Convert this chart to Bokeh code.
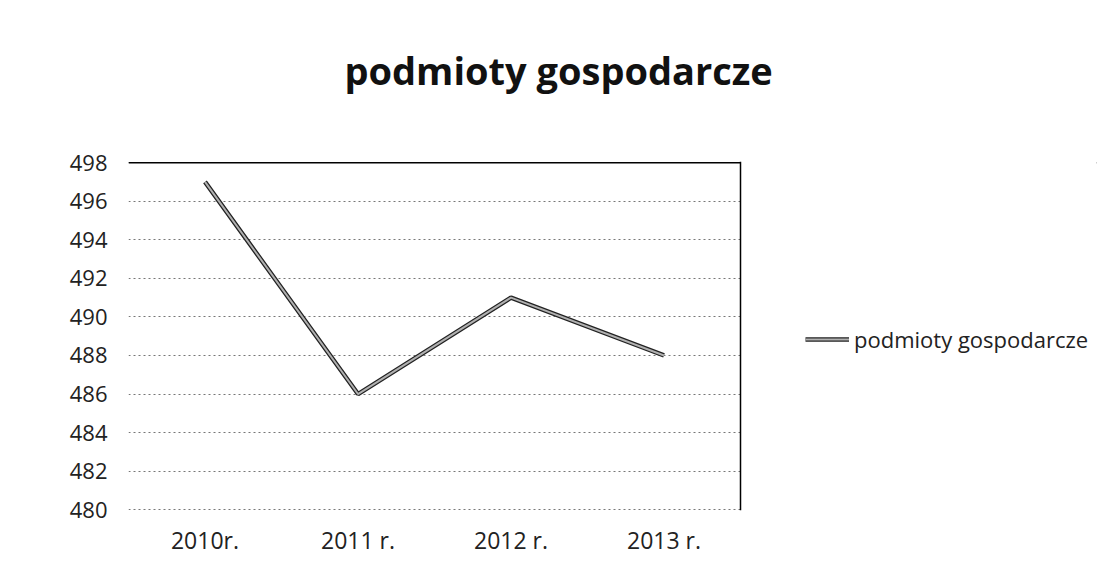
from bokeh.plotting import figure
from bokeh.models import (Range1d, SingleIntervalTicker, FixedTicker, Span, Legend, LegendItem,
                          BoxAnnotation, Title)
from bokeh.embed import file_html
from bokeh.resources import INLINE

categories = ["2010r.", "2011 r.", "2012 r.", "2013 r."]
values = [497, 486, 491, 488]
series_name = "podmioty gospodarcze"
title_text = "podmioty gospodarcze"
y_min, y_max, y_step = 480, 498, 2

FONT = "Open Sans"

# layout (pixels)
W, H = 1100, 580
left_px, right_border = 128, 4
plot_right_px = 740          # right edge of the chart area in the reference
frame_w = W - left_px - right_border
n = len(categories)
x_pos = list(range(1, n + 1))
x_end = 0.5 + n * frame_w / (plot_right_px - left_px)

p = figure(width=W, height=H, title=None,
           x_range=Range1d(0.5, x_end),
           y_range=Range1d(y_min - 0.04, y_max + 0.06),
           output_backend="svg", toolbar_location=None,
           min_border_left=left_px, min_border_right=right_border,
           min_border_top=161, min_border_bottom=70)

spacer = Title(text=" ", text_font_size="10px", standoff=43)
p.add_layout(spacer, "above")
main_title = Title(text=title_text, text_font=FONT, text_font_size="38px",
                   text_font_style="bold", align="left", offset=216,
                   standoff=20, text_color="#111111")
p.add_layout(main_title, "above")

p.outline_line_color = None
p.background_fill_color = "white"
p.border_fill_color = "white"

p.xgrid.grid_line_color = None
p.ygrid.grid_line_color = "#777777"
p.ygrid.grid_line_dash = "2 3"
p.ygrid.grid_line_width = 1
p.yaxis.ticker = SingleIntervalTicker(interval=y_step)
p.xaxis.ticker = FixedTicker(ticks=x_pos)
p.xaxis.major_label_overrides = {x: c for x, c in zip(x_pos, categories)}

for ax in (p.xaxis[0], p.yaxis[0]):
    ax.axis_line_color = None
    ax.major_tick_line_color = None
    ax.minor_tick_line_color = None
    ax.major_label_text_font = FONT
    ax.major_label_text_color = "#222222"

p.yaxis.major_label_text_font_size = "22px"
p.yaxis.major_label_standoff = 15
p.xaxis.major_label_text_font_size = "23px"
p.xaxis.major_label_standoff = 7

x_edge = n + 0.5
top = Span(location=y_max, dimension="width", line_color="black", line_width=1.5)
p.add_layout(top)
mask = BoxAnnotation(left=x_edge, fill_color="white", fill_alpha=1,
                     line_color=None)
p.add_layout(mask)
right = Span(location=x_edge, dimension="height", line_color="black", line_width=1.5)
p.add_layout(right)

r1 = p.line(x_pos, values, line_color="#222222", line_width=4.5)
r2 = p.line(x_pos, values, line_color="#b0b0b0", line_width=2)

legend = Legend(items=[LegendItem(label=series_name, renderers=[r1, r2])],
                location=(805 - left_px, 156), border_line_color=None,
                background_fill_alpha=0,
                label_text_font=FONT, label_text_font_size="22px",
                label_text_color="#222222",
                glyph_width=44, label_standoff=5, margin=0, padding=0)
p.add_layout(legend, "center")

open("out.html", "w").write(file_html(p, INLINE))
